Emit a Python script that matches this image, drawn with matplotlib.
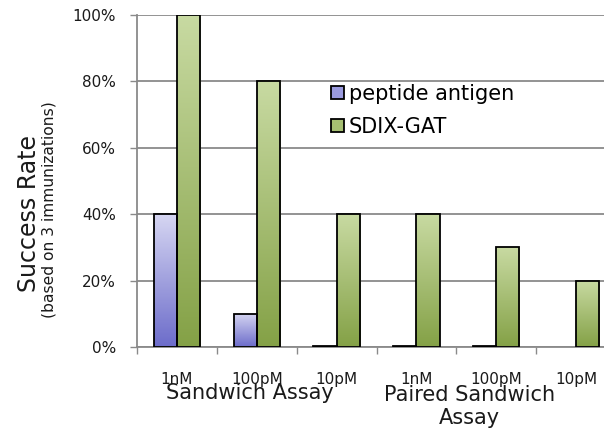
import numpy as np
import matplotlib
matplotlib.use("Agg")
import matplotlib.pyplot as plt
from matplotlib.colors import LinearSegmentedColormap
from matplotlib.patches import Patch

categories = ["1nM", "100pM", "10pM", "1nM", "100pM", "10pM"]
peptide = [40, 10, 0.4, 0.4, 0.2, np.nan]
sdix = [100, 80, 40, 40, 30, 20]
groups = ["Sandwich Assay", "Paired Sandwich\nAssay"]
y_ticks = [0, 20, 40, 60, 80, 100]

blue_cmap = LinearSegmentedColormap.from_list("blue", ["#6c6cca", "#d6d6f2"])
green_cmap = LinearSegmentedColormap.from_list("green", ["#84a146", "#c8daa2"])

fig = plt.figure(figsize=(6.04, 4.32), dpi=100)
ax = fig.add_axes([0.2268, 0.1968, 0.7931, 0.7685])

x = np.arange(len(categories))
w = 0.29


def gradient_bars(xs, vals, cmap, offset):
    bars = ax.bar(xs + offset, vals, width=w, facecolor="none",
                  edgecolor="black", linewidth=1.3, zorder=3)
    grad = np.linspace(0, 1, 256).reshape(-1, 1)
    for b in bars:
        h = b.get_height()
        if not np.isfinite(h) or h <= 0.5:
            continue
        x0 = b.get_x()
        im = ax.imshow(grad, cmap=cmap, aspect="auto", origin="lower",
                       extent=[x0, x0 + b.get_width(), 0, h], zorder=2)
        im.set_clip_path(b)
    return bars


gradient_bars(x, peptide, blue_cmap, -w / 2)
gradient_bars(x, sdix, green_cmap, w / 2)

ax.set_xlim(-0.5, len(categories) - 0.5)
ax.set_ylim(0, 100)
ax.set_yticks(y_ticks)
ax.set_yticklabels([f"{t}%" for t in y_ticks], fontsize=11, color="#1a1a1a")
ax.yaxis.grid(True, color="#8a8a8a", linewidth=1.3, zorder=0)
ax.set_axisbelow(True)

ax.set_xticks(np.arange(len(categories) + 1) - 0.5)
ax.set_xticklabels([])
ax.tick_params(axis="x", length=5, width=1, color="#8a8a8a")
ax.tick_params(axis="y", length=5, width=1, color="#8a8a8a", pad=10)
for s in ["top", "right"]:
    ax.spines[s].set_visible(False)
for s in ["left", "bottom"]:
    ax.spines[s].set_color("#8a8a8a")
    ax.spines[s].set_linewidth(1.3)

# category labels sit just under the axis, group labels overlap them as in the source
for xi, lab in zip(x, categories):
    ax.text(xi, -9.9, lab, ha="center", va="center", fontsize=11,
            color="#1a1a1a", clip_on=False)
ax.text(0.915, -13.9, groups[0], ha="center", va="center", fontsize=15,
        color="#1a1a1a", clip_on=False)
ax.text(3.66, -18.0, groups[1], ha="center", va="center", fontsize=15,
        color="#1a1a1a", clip_on=False, linespacing=1.2)

fig.text(29 / 604, 1 - 213 / 432, "Success Rate", rotation=90, ha="center",
         va="center", fontsize=17, color="#1a1a1a")
fig.text(49 / 604, 1 - 210 / 432, "(based on 3 immunizations)", rotation=90,
         ha="center", va="center", fontsize=11.2, color="#1a1a1a")

handles = [Patch(facecolor="#9a9ade", edgecolor="black", linewidth=1.3),
           Patch(facecolor="#a6bf72", edgecolor="black", linewidth=1.3)]
ax.legend(handles, ["peptide antigen", "SDIX-GAT"], loc="upper left",
          bbox_to_anchor=(331 / 604, 1 - 84 / 432),
          bbox_transform=fig.transFigure, frameon=False, fontsize=15,
          handlelength=0.6, handleheight=0.6, handletextpad=0.25,
          labelspacing=0.62, borderaxespad=0, borderpad=0)

fig.savefig("out.png", dpi=100)
